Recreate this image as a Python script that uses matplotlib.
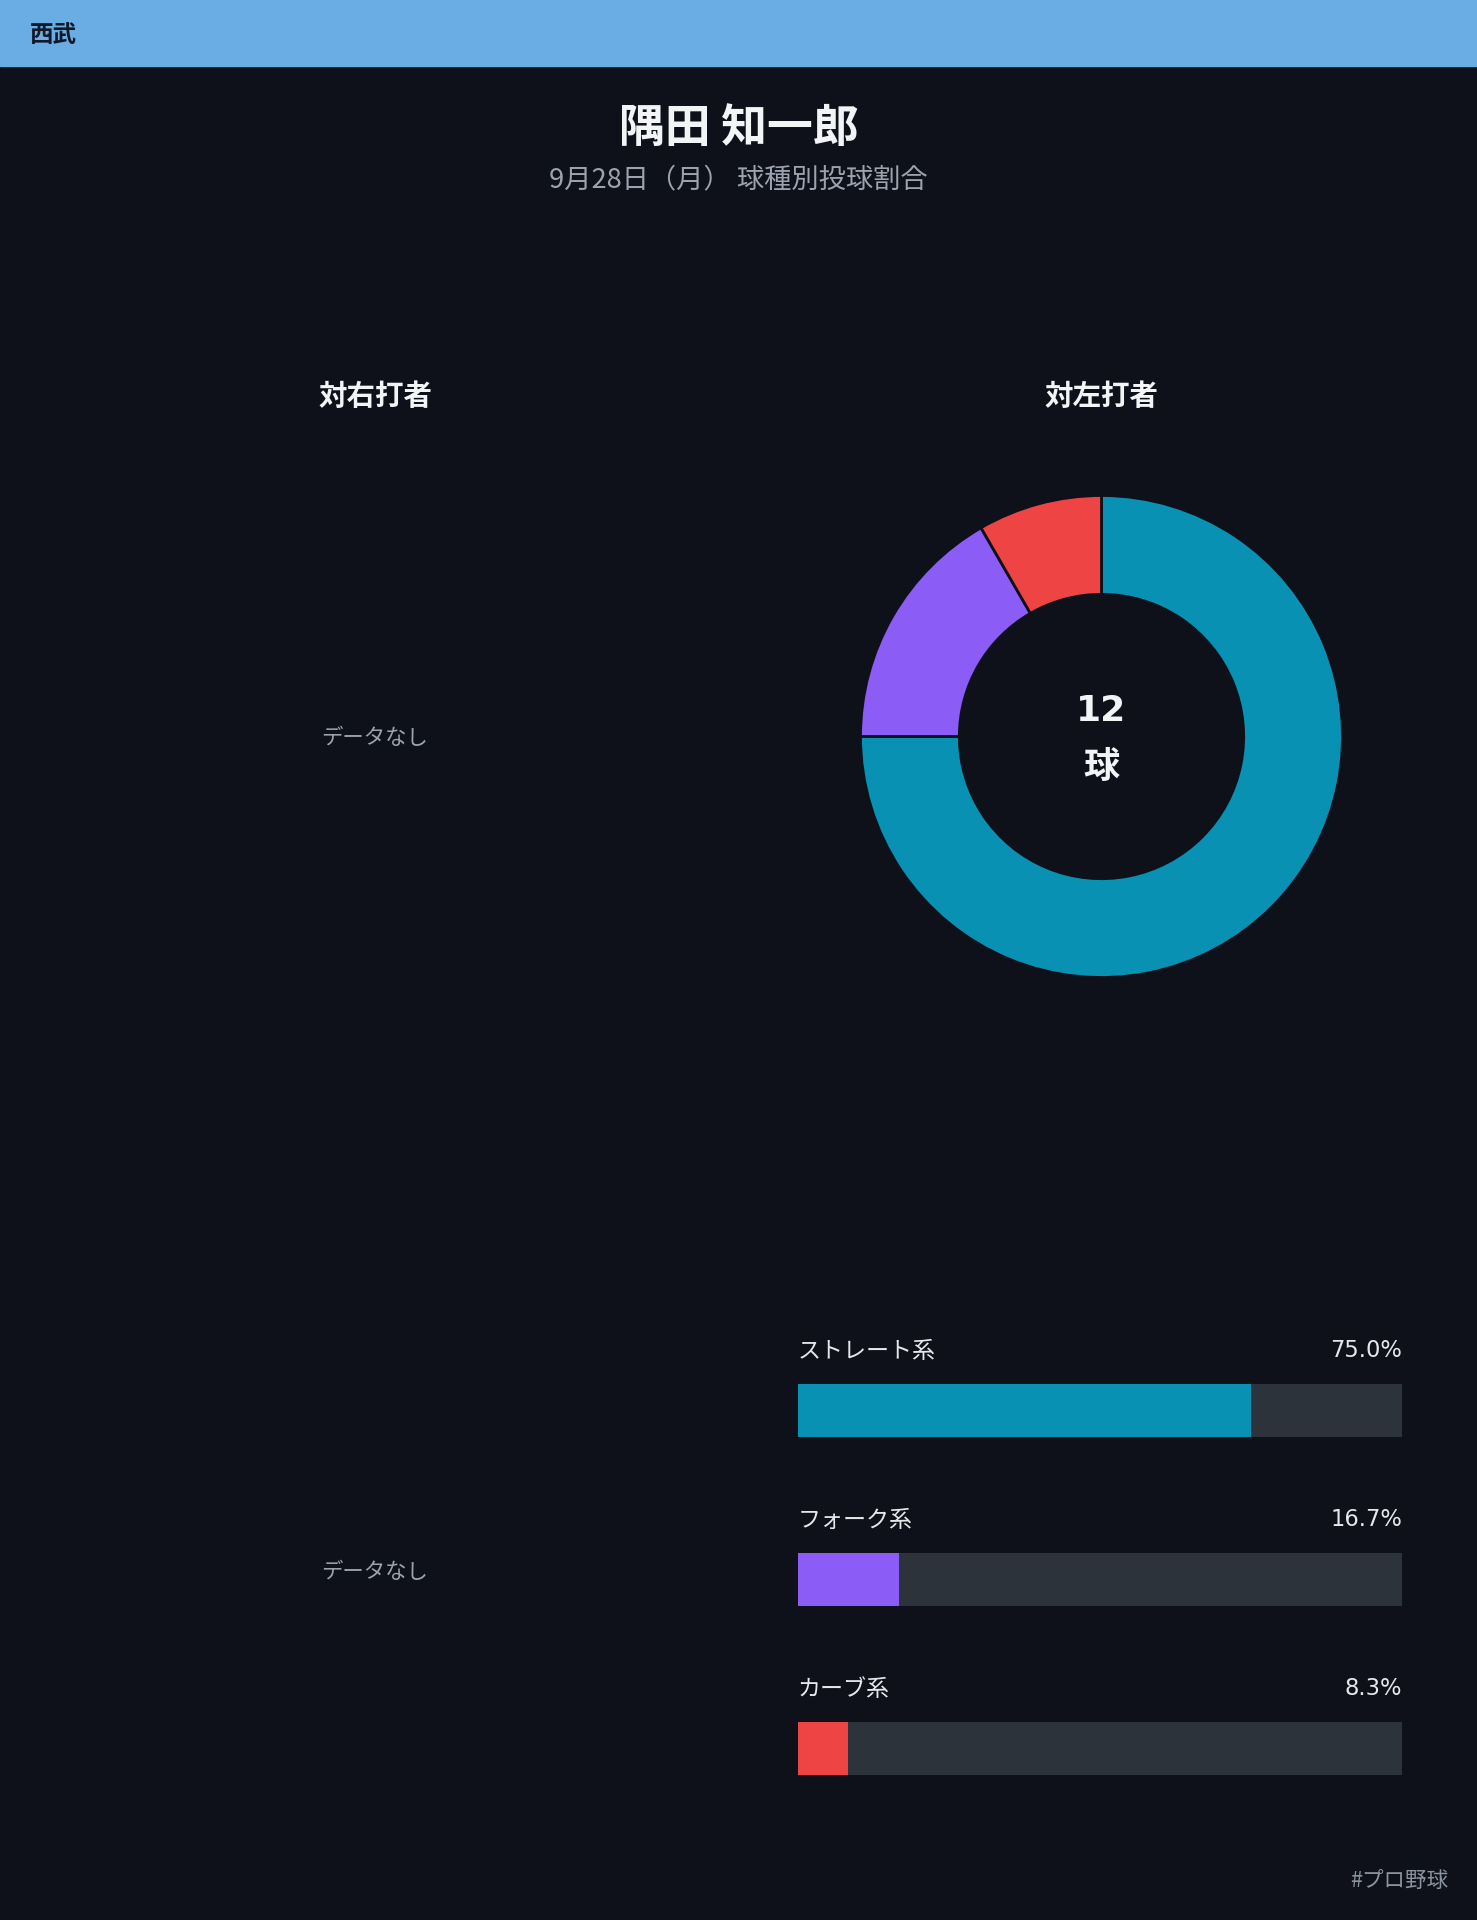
import matplotlib
matplotlib.use("Agg")
from matplotlib import pyplot as plt
from matplotlib.patches import Rectangle

plt.rcParams["font.family"] = ["Noto Sans CJK JP", "DejaVu Sans"]
LATIN = ["DejaVu Sans", "Noto Sans CJK JP"]

# data
team = "西武"
pitcher = "隅田 知一郎"
subtitle = "9月28日（月） 球種別投球割合"
side_titles = ["対右打者", "対左打者"]
pitch_types = ["ストレート系", "フォーク系", "カーブ系"]
vs_right_counts = []          # no data
vs_left_counts = [9, 2, 1]
pitch_colors = ["#0891b2", "#8b5cf6", "#ef4444"]

W, H = 1477, 1920
BG = "#0e111a"
TRACK = "#2d333b"

fig = plt.figure(figsize=(W / 100, H / 100), dpi=100, facecolor=BG)


def px_axes(x0, y0, x1, y1):
    return fig.add_axes([x0 / W, 1 - y1 / H, (x1 - x0) / W, (y1 - y0) / H])


# overlay for header and free text
ov = px_axes(0, 0, W, H)
ov.set_xlim(0, W)
ov.set_ylim(H, 0)
ov.axis("off")
ov.add_patch(Rectangle((0, 0), W, 66, color="#6aade4", zorder=0))
ov.text(30, 35, team, fontsize=17, fontweight="bold", color="#111827",
        ha="left", va="center")
ov.text(W / 2, 129, pitcher, fontsize=33, fontweight="bold", color="#f3f4f6",
        ha="center", va="center")
ov.text(W / 2, 180, subtitle, fontsize=19.6, color="#9ca3af",
        ha="center", va="center")
ov.text(375, 397, side_titles[0], fontsize=20.5, fontweight="bold",
        color="#f3f4f6", ha="center", va="center")
ov.text(1101, 397, side_titles[1], fontsize=20.5, fontweight="bold",
        color="#f3f4f6", ha="center", va="center")
ov.text(W - 29, 1882, "#プロ野球", fontsize=15.5, color="#8b949e",
        ha="right", va="center")

# right-handed batters: no data
if not vs_right_counts:
    ov.text(375, 738, "データなし", fontsize=15.4, color="#9ca3af",
            ha="center", va="center")
    ov.text(375, 1572, "データなし", fontsize=15.4, color="#9ca3af",
            ha="center", va="center")

# donut for left-handed batters
cx, cy, R = 1101.5, 736.5, 241
ax_d = px_axes(cx - R, cy - R, cx + R, cy + R)
ax_d.set_facecolor(BG)
ax_d.pie(vs_left_counts, colors=pitch_colors, startangle=90, counterclock=False,
         radius=1.0, wedgeprops=dict(width=0.41, edgecolor=BG, linewidth=2))
ax_d.set_xlim(-1, 1)
ax_d.set_ylim(-1, 1)
ax_d.axis("off")
total = sum(vs_left_counts)
ax_d.text(0, 0.105, str(total), fontsize=26, fontweight="bold", color="#f3f4f6",
          family=LATIN, ha="center", va="center")
ax_d.text(0, -0.13, "球", fontsize=26, fontweight="bold", color="#f3f4f6",
          ha="center", va="center")

# percentage bars
step = 169
top_c = 1410.5
ax_b = px_axes(798, top_c - 0.6 * step, 1402, top_c + 2.5 * step)
ax_b.set_xlim(0, 100)
ax_b.set_ylim(2.5, -0.6)
ax_b.axis("off")
pcts = [c / total * 100 for c in vs_left_counts]
ypos = list(range(len(pitch_types)))
bh = 53 / step
ax_b.barh(ypos, [100] * len(ypos), height=bh, color=TRACK, linewidth=0)
ax_b.barh(ypos, pcts, height=bh, color=pitch_colors, linewidth=0)
for y, name, p in zip(ypos, pitch_types, pcts):
    ax_b.text(0, y - 59 / step, name, fontsize=16.6, color="#e5e7eb",
              ha="left", va="center")
    ax_b.text(100, y - 60 / step, f"{p:.1f}%", fontsize=16.3, color="#e5e7eb",
              family=LATIN, ha="right", va="center")

fig.savefig("out.png", dpi=100, facecolor=BG)
